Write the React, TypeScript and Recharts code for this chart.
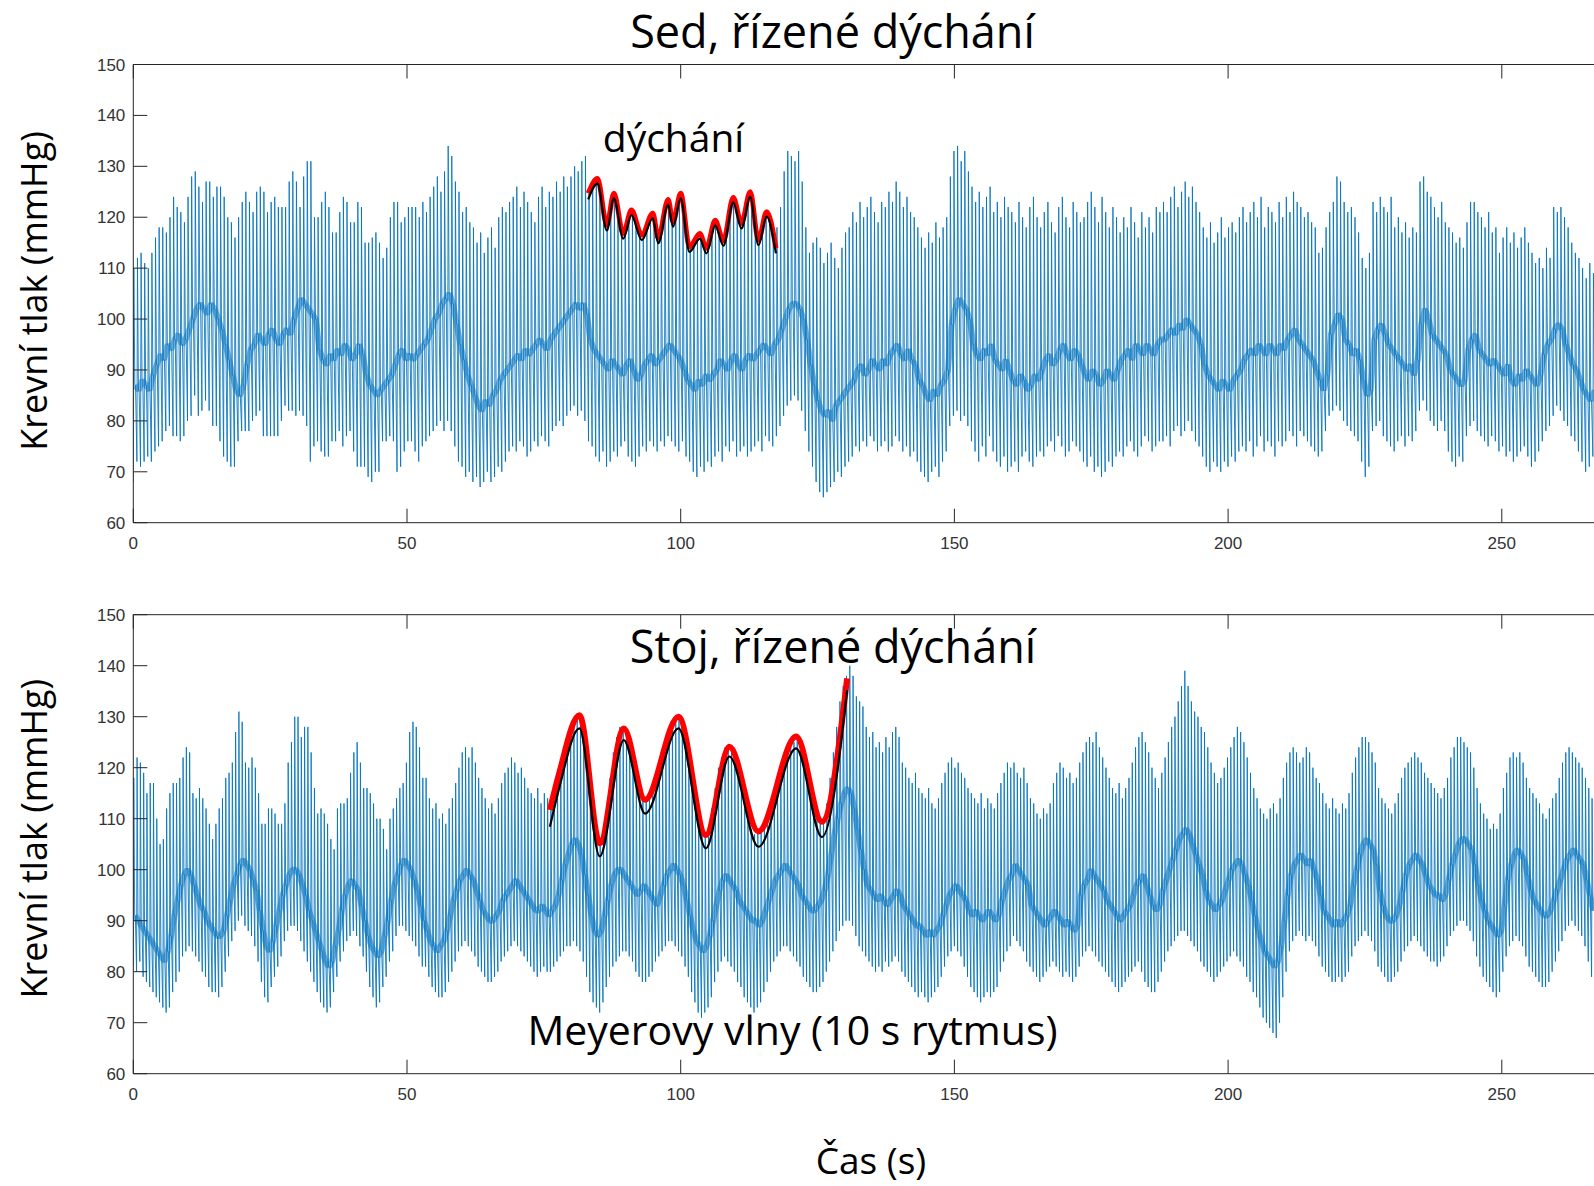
import React from "react";
import { ComposedChart, Line, XAxis, YAxis, ReferenceLine } from "recharts";

// ---------- data ----------
const X_TICKS = [0, 50, 100, 150, 200, 250];
const Y_TICKS = [60, 70, 80, 90, 100, 110, 120, 130, 140, 150];

// beat period (s) of each recording
const BEAT_TOP = 0.66;
const BEAT_BOT = 0.6;

// Sed (sitting): systolic peak, diastolic minimum and dicrotic-notch level per beat (mmHg)
const TOP_SYS = [
  110,112,113,111,110,113,116,118,118,117,120,124,122,121,119,124,128,129,126,123,
  127,127,124,126,126,124,120,119,116,120,123,125,123,121,125,126,125,121,123,124,
  122,122,122,127,129,127,122,128,131,131,120,120,123,125,122,117,117,121,124,123,
  119,119,123,122,115,115,116,117,115,112,114,120,123,123,119,120,122,122,
  122,120,123,121,124,126,128,125,129,134,132,127,125,121,122,119,
  118,115,117,113,116,118,114,120,122,121,123,124,126,122,125,123,
  121,119,124,126,122,125,124,127,125,128,126,128,130,129,131,132,
  125,126,127,126,122,119,121,124,122,118,117,119,121,119,117,116,118,120,120,116,
  118,121,123,120,121,124,123,118,114,115,116,116,114,114,117,119,118,115,117,121,
  123,122,119,120,124,124,119,115,118,121,119,115,
  118,122,129,133,132,131,133,127,118,113,115,116,114,111,113,115,112,110,114,117,
  118,121,119,123,120,122,124,121,119,123,
  122,125,123,127,125,122,124,121,120,
  118,116,114,117,115,119,116,118,120,
  128,133,134,131,133,129,
  126,123,125,122,124,126,121,123,120,124,122,
  121,119,123,120,118,122,124,120,
  118,121,123,119,117,122,124,120,118,123,121,119,
  120,123,125,122,119,124,121,118,122,120,
  117,120,118,122,119,116,121,118,120,117,122,121,
  123,121,124,126,122,125,127,124,126,123,121,
  118,116,119,115,117,120,116,118,119,117,120,
  122,119,121,123,120,124,118,122,121,119,123,120,
  124,121,125,123,
  122,120,121,119,118,113,114,118,121,123,128,127,123,121,122,120,117,112,110,113,
  123,121,124,122,121,124,118,120,117,119,116,118,117,127,128,125,124,122,120,123,119,
  118,117,115,116,114,119,123,123,121,120,118,121,117,118,113,116,118,115,117,114,116,118,115,
  113,111,112,110,114,112,122,121,122,120,118,115,113,112,110,108,111,109,
];
const TOP_DIA = [
  68,72,71,72,73,72,74,75,76,78,79,77,77,76,77,80,81,85,81,82,
  84,82,79,79,76,73,72,71,71,76,78,78,78,80,81,82,77,77,77,77,
  77,80,83,82,82,81,82,81,79,72,75,76,74,73,73,76,76,78,75,77,
  78,74,71,71,71,69,68,70,70,76,76,77,76,70,71,74,76,76,
  74,72,75,76,77,78,79,80,78,80,78,75,72,71,69,70,
  68,69,67,68,70,68,69,71,70,72,74,75,74,76,75,73,
  74,76,75,77,76,75,78,79,80,79,81,82,83,81,82,80,
  76,75,73,72,74,71,72,74,73,75,76,73,72,71,73,75,74,76,75,
  74,76,75,77,76,75,74,76,73,72,70,69,71,70,72,71,
  73,74,72,75,74,76,73,74,75,73,74,75,76,74,77,76,75,
  77,79,81,83,84,85,84,82,78,74,71,68,66,65,66,67,68,70,69,71,
  72,73,75,74,76,75,77,76,74,75,
  76,74,75,77,76,74,75,73,74,
  72,70,69,68,70,71,69,72,74,
  79,81,82,80,81,79,
  76,74,72,75,73,77,74,72,71,73,70,
  71,72,70,73,74,72,71,73,
  74,73,75,76,74,77,75,73,74,76,75,74,
  72,71,73,70,71,69,70,72,71,73,
  74,73,75,76,74,73,75,77,76,74,75,76,
  76,77,75,78,79,77,78,80,78,76,75,
  73,71,70,72,71,70,72,71,73,72,74,
  75,74,76,73,75,77,74,76,75,73,76,75,
  76,78,77,75,
  78,77,76,75,74,73,74,78,81,82,83,82,80,79,78,77,76,72,69,71,
  78,79,80,77,76,75,74,76,77,75,77,76,78,82,84,82,80,79,78,80,78,
  74,72,71,73,72,77,79,80,78,77,76,75,77,76,74,75,73,74,72,73,74,75,73,
  71,72,74,76,78,79,81,83,82,80,79,77,76,74,72,70,71,73,
];
const TOP_MID = [
  87,86,88,87,86,89,91,93,92,95,94,96,97,95,96,98,100,102,103,102,
  101,103,102,100,98,95,92,89,86,85,87,91,94,95,97,96,95,97,98,96,
  95,97,98,97,100,102,104,103,102,101,100,94,92,91,93,92,94,93,95,94,
  92,93,95,93,89,87,86,85,86,87,88,89,91,93,94,92,93,92,
  93,94,95,96,98,100,101,103,104,105,103,99,95,92,89,87,
  85,83,82,84,83,85,86,88,89,90,91,92,93,92,94,93,
  94,95,96,95,94,96,97,98,99,100,101,102,103,102,103,101,
  96,94,93,92,91,90,92,91,90,89,91,92,90,88,89,91,92,93,91,
  92,93,94,95,94,93,92,90,88,87,86,88,87,89,88,
  89,90,92,91,90,92,93,91,90,92,93,92,93,94,95,94,93,95,
  96,98,100,102,103,103,102,100,96,91,87,84,82,81,82,80,83,84,85,86,
  87,88,90,91,89,90,92,91,90,92,
  91,93,94,95,93,92,94,92,91,
  88,87,85,84,86,85,87,88,90,
  99,102,104,103,102,100,
  95,93,92,94,93,95,92,91,90,92,90,
  88,87,89,88,86,87,89,88,
  90,92,93,91,92,94,95,93,92,94,93,91,
  89,88,90,89,87,88,90,89,88,90,
  92,93,94,92,95,94,93,95,94,93,95,96,
  96,97,98,97,99,98,100,99,98,97,95,
  91,89,88,87,86,88,87,86,88,89,90,
  92,93,94,93,95,94,93,95,94,93,95,94,
  96,97,98,96,
  95,94,93,92,90,88,86,89,97,99,101,100,96,95,93,94,92,88,85,86,
  96,98,99,97,95,94,93,92,91,90,91,89,92,99,102,100,97,96,95,94,93,
  90,89,88,87,88,94,96,97,94,93,92,91,92,91,90,89,91,88,87,89,88,90,89,
  88,87,89,93,95,96,98,99,98,95,93,91,90,88,86,85,84,86,
];

// Stoj (standing)
const BOT_SYS = [
  118,122,121,119,115,117,117,110,105,106,112,115,117,117,118,122,124,123,115,114,
  116,114,112,109,106,109,112,114,118,119,121,127,131,129,121,120,122,120,115,109,
  109,112,112,111,109,109,113,121,125,130,130,126,128,128,123,116,111,112,111,109,
  106,104,112,113,113,114,119,123,125,121,116,116,115,113,110,110,108,104,110,112,
  114,116,117,121,127,129,128,124,118,
  118,114,112,113,110,111,109,112,114,117,120,123,124,122,124,121,118,116,114,
  112,113,111,114,117,119,120,122,121,119,120,118,116,115,114,116,113,115,114,
  112,115,118,120,122,125,127,129,130,130,128,123,117,111,107,105,107,112,118,123,
  126,128,128,127,124,120,117,115,114,114,115,117,119,121,123,125,127,129,130,130,
  129,126,122,118,113,109,107,107,108,112,116,120,122,124,124,123,121,118,115,112,
  110,108,107,107,108,108,109,111,113,115,118,120,122,124,125,126,125,123,120,116,
  113,110,109,110,113,118,123,128,133,136,138,
  140,138,134,133,132,
  128,126,127,124,125,123,126,124,127,128,126,
  121,120,118,117,119,116,115,114,116,113,112,114,
  117,119,121,122,120,121,119,118,
  116,115,114,113,115,112,114,113,112,115,
  117,119,121,120,121,119,118,120,117,
  114,113,111,110,112,111,113,
  117,119,121,120,118,119,117,118,
  121,123,125,126,125,127,124,122,120,118,
  116,115,117,114,116,118,121,124,126,
  127,125,123,120,118,116,
  119,122,125,128,130,133,
  136,139,136,133,131,130,128,
  127,124,121,119,117,118,120,122,
  124,126,128,127,125,122,119,
  116,114,112,111,110,112,113,111,114,
  118,121,123,124,123,
  121,122,124,123,120,118,117,
  115,113,112,114,112,111,113,112,115,
  119,122,124,126,126,125,123,121,
  116,114,113,112,111,113,115,118,120,
  121,122,123,122,121,119,118,117,
  116,115,114,116,118,
  122,124,126,126,125,124,123,120,
  116,113,111,110,108,109,108,111,
  116,119,122,123,122,123,121,
  118,116,115,114,113,111,110,112,114,115,
  118,121,123,124,123,122,121,120,
  118,116,114,
];
const BOT_DIA = [
  81,80,82,79,78,77,76,75,74,73,72,73,76,78,80,83,84,85,84,83,
  82,80,79,77,76,76,75,77,80,83,86,88,90,91,89,88,87,85,82,78,
  75,74,77,79,81,83,86,88,89,89,88,86,84,82,80,78,76,74,73,72,
  73,76,79,82,84,86,87,88,87,85,83,80,77,75,73,74,77,79,82,84,
  87,89,89,88,87,86,85,83,81,
  81,79,77,76,75,75,76,78,80,82,84,85,86,85,84,83,81,80,79,
  78,78,79,80,82,83,84,85,86,85,84,83,82,81,80,79,80,81,80,
  80,81,82,83,84,85,85,86,85,84,82,79,76,74,73,72,74,77,79,81,
  82,83,84,84,83,82,80,79,78,78,79,80,82,83,84,85,86,86,85,84,
  83,81,79,76,74,72,71,72,73,75,78,80,82,83,82,81,80,78,77,75,
  74,73,72,73,74,76,78,80,82,83,84,85,85,84,83,82,81,79,78,77,
  76,76,77,78,80,82,84,86,88,89,90,
  90,89,87,85,84,
  83,82,81,80,81,80,82,81,82,83,82,
  80,79,78,77,76,75,76,75,74,75,76,77,
  79,81,83,84,85,84,83,81,
  79,77,76,75,74,75,76,75,76,77,
  80,82,84,85,87,86,85,84,82,
  81,80,79,78,79,80,81,
  82,81,80,79,80,79,78,79,
  81,83,84,85,84,83,82,81,80,79,
  78,77,76,77,78,79,80,81,82,
  80,78,77,76,76,78,
  80,82,84,85,86,87,
  88,88,87,86,85,84,82,
  81,80,79,78,79,80,81,82,
  83,84,83,82,81,79,78,
  76,75,73,71,70,69,68,67,70,
  75,80,84,86,87,
  88,87,86,87,86,85,83,
  81,80,79,78,78,79,78,79,80,
  83,85,86,87,88,87,86,84,
  81,80,79,78,78,79,80,82,84,
  85,86,87,86,85,84,83,82,
  82,81,82,83,85,
  87,88,89,90,90,89,88,86,
  83,81,79,78,77,76,75,76,
  80,83,85,86,87,86,85,
  83,81,80,79,78,77,77,78,80,82,
  84,86,88,89,90,89,88,87,
  85,82,79,
];
const BOT_MID = [
  91,90,89,88,87,86,85,84,83,82,84,87,91,94,97,99,100,99,97,95,
  93,92,90,89,88,87,87,88,91,94,97,99,101,102,101,100,98,96,92,88,
  85,84,86,89,92,95,97,99,100,100,99,97,95,92,90,88,86,84,82,81,
  82,85,88,92,95,97,98,97,96,93,90,87,85,84,83,84,87,90,94,97,
  99,101,102,101,100,98,96,93,90,
  88,86,85,84,85,86,88,91,94,96,98,99,100,99,98,96,94,92,91,
  90,90,91,92,94,95,96,97,98,97,96,95,94,93,92,92,93,92,91,
  92,93,95,98,101,103,105,106,105,103,99,95,91,88,87,88,91,94,97,99,
  100,100,99,98,97,96,95,96,97,96,95,94,93,95,97,99,100,101,100,99,
  97,94,91,88,86,85,84,85,87,90,93,96,98,99,98,97,96,94,93,92,
  91,90,90,89,90,92,94,96,98,99,100,101,100,99,98,97,95,94,93,92,
  92,93,94,96,99,103,107,110,113,115,116,
  115,112,108,104,100,
  97,96,95,94,95,94,93,94,95,96,95,
  93,92,91,90,89,89,88,87,88,87,88,89,
  91,93,95,96,97,96,95,94,
  92,91,92,91,90,91,92,91,90,91,
  94,96,98,99,101,100,99,98,97,
  93,92,91,90,89,90,91,
  92,91,90,89,90,89,88,89,
  95,97,98,100,99,98,97,96,94,93,
  92,91,90,91,92,93,95,97,98,
  99,97,95,93,92,93,
  96,98,100,102,104,106,
  107,108,107,105,103,101,99,
  96,94,93,92,93,94,96,98,
  100,101,102,101,99,97,94,
  91,88,86,84,83,82,81,82,85,
  90,95,99,101,102,
  103,102,101,102,100,98,95,
  92,91,90,89,90,89,90,91,93,
  97,100,103,105,106,105,104,101,
  96,93,91,90,90,91,93,96,99,
  101,102,103,102,101,99,97,96,
  95,95,94,95,98,
  101,103,105,106,106,105,104,101,
  97,94,92,90,89,88,87,88,
  93,98,101,103,104,103,102,
  99,96,94,93,92,91,91,92,94,96,
  98,100,102,103,104,103,102,101,
  98,95,92,
];

// respiratory envelope ("dýchání") drawn over the sitting record
const RESP_T = [83.1,84.8,86.5,87.8,89.5,91.0,92.9,94.9,95.9,97.7,98.6,100.0,101.6,103.5,104.7,106.3,107.8,109.6,111.1,112.7,114.2,115.7,117.4];
const RESP_RED = [124.7,127.6,118.5,124.7,116.8,121.4,116.5,120.8,115.9,123.5,119.1,124.7,114.2,116.8,113.9,119.4,115.4,123.9,118.8,125.0,115.5,121.1,113.9];
const RESP_BLACK = [123.5,126.6,117.4,123.7,115.8,120.4,115.5,119.8,114.9,122.5,118.1,123.7,113.2,115.8,112.9,118.4,114.4,122.9,117.8,124.0,114.5,120.1,112.9];

// Mayer-wave envelope drawn over the standing record
const MAYER_T = [76.1,77.8,81.5,85.2,89.6,93.5,99.6,104.6,108.9,114.2,121.1,125.8,130.4];
const MAYER_RED = [111.7,118.9,130.3,105.2,127.7,113.7,130.0,106.8,124.1,107.5,126.1,109.4,137.5];
const MAYER_BLACK = [108.4,116.0,127.7,102.6,125.4,111.0,127.7,104.2,122.2,104.5,123.8,106.4,135.2];

// ---------- helpers ----------
type Pt = { t: number; v: number };
function buildWave(sys: number[], dia: number[], mid: number[], T: number) {
  const n = Math.min(sys.length, dia.length, mid.length);
  const pts: Pt[] = [];
  for (let i = 0; i < n; i++) {
    const t0 = i * T;
    pts.push({ t: t0, v: dia[i] });
    pts.push({ t: t0 + 0.15 * T, v: sys[i] });
    pts.push({ t: t0 + 0.42 * T, v: mid[i] });
    pts.push({ t: t0 + 0.62 * T, v: mid[i] });
  }
  return pts;
}
// dicrotic-notch trace: where the pulse lingers on every beat (the dark band)
function buildNotch(mid: number[], T: number) {
  return mid.map((m, i) => ({ t: i * T + 0.5 * T, v: m }));
}
function zip(ts: number[], vs: number[]) {
  return ts.map((t, i) => ({ t, v: vs[i] }));
}

const AX = "#262626";
const TICK_FONT = "'Liberation Sans', Arial, Helvetica, sans-serif";
const TEXT_FONT = "'Open Sans', 'Noto Sans', sans-serif";

const YTick = (props: any) => {
  const { x, y, payload } = props;
  return (
    <g>
      <line x1={x + 8} x2={x + 22} y1={y} y2={y} stroke={AX} strokeWidth={1} />
      <text x={x} y={y} dy="0.355em" textAnchor="end" fontSize={17} fontFamily={TICK_FONT} fill="#333">
        {payload.value}
      </text>
    </g>
  );
};

const makeXTick = (plotH: number) => (props: any) => {
  const { x, y, payload } = props;
  const axisY = y - 14;
  return (
    <g>
      <line x1={x} x2={x} y1={axisY} y2={axisY - 14} stroke={AX} strokeWidth={1} />
      <line x1={x} x2={x} y1={axisY - plotH} y2={axisY - plotH + 14} stroke={AX} strokeWidth={1} />
      <text x={x} y={y} dy="0.71em" textAnchor="middle" fontSize={17} fontFamily={TICK_FONT} fill="#333">
        {payload.value}
      </text>
    </g>
  );
};

const CHART_W = 1800;
const CHART_H = 560;

function Panel(props: {
  top: number;
  marginTop: number;
  xAxisH: number;
  wave: Pt[];
  notch: Pt[];
  red: Pt[];
  black: Pt[];
  redW: number;
}) {
  const plotH = CHART_H - props.marginTop - props.xAxisH;
  return (
    <div style={{ position: "absolute", left: 0, top: props.top }}>
      <ComposedChart
        width={CHART_W}
        height={CHART_H}
        margin={{ top: props.marginTop, right: 24.5, bottom: 0, left: 73.3 }}
      >
        <XAxis
          dataKey="t"
          type="number"
          domain={[0, 300]}
          ticks={X_TICKS}
          interval={0}
          allowDataOverflow
          height={props.xAxisH}
          tickSize={0}
          tickMargin={14}
          tickLine={false}
          axisLine={{ stroke: AX, strokeWidth: 1 }}
          tick={makeXTick(plotH)}
        />
        <YAxis
          type="number"
          domain={[60, 150]}
          ticks={Y_TICKS}
          interval={0}
          allowDataOverflow
          width={60}
          tickSize={0}
          tickMargin={8}
          tickLine={false}
          axisLine={{ stroke: AX, strokeWidth: 1 }}
          tick={YTick}
        />
        <ReferenceLine y={150} stroke={AX} strokeWidth={1} />
        <Line
          data={props.notch}
          dataKey="v"
          type="linear"
          stroke="#0072BD"
          strokeWidth={6}
          strokeOpacity={0.5}
          strokeLinejoin="bevel"
          dot={false}
          activeDot={false}
          isAnimationActive={false}
        />
        <Line
          data={props.wave}
          dataKey="v"
          type="linear"
          stroke="#0072BD"
          strokeWidth={1}
          strokeOpacity={0.85}
          dot={false}
          activeDot={false}
          isAnimationActive={false}
        />
        <Line
          data={props.red}
          dataKey="v"
          type="monotone"
          stroke="#FF0000"
          strokeWidth={props.redW}
          dot={false}
          activeDot={false}
          isAnimationActive={false}
        />
        <Line
          data={props.black}
          dataKey="v"
          type="monotone"
          stroke="#000000"
          strokeWidth={2.2}
          dot={false}
          activeDot={false}
          isAnimationActive={false}
        />
      </ComposedChart>
    </div>
  );
}

export default function App() {
  const topWave = buildWave(TOP_SYS, TOP_DIA, TOP_MID, BEAT_TOP);
  const botWave = buildWave(BOT_SYS, BOT_DIA, BOT_MID, BEAT_BOT);
  return (
    <div
      style={{
        position: "absolute",
        left: 0,
        top: 0,
        width: 1594,
        height: 1186,
        overflow: "hidden",
        background: "#fff",
      }}
    >
      <Panel
        top={0}
        marginTop={64.5}
        xAxisH={37.3}
        wave={topWave}
        notch={buildNotch(TOP_MID, BEAT_TOP)}
        red={zip(RESP_T, RESP_RED)}
        black={zip(RESP_T, RESP_BLACK)}
        redW={5}
      />
      <Panel
        top={560}
        marginTop={54.7}
        xAxisH={46.3}
        wave={botWave}
        notch={buildNotch(BOT_MID, BEAT_BOT)}
        red={zip(MAYER_T, MAYER_RED)}
        black={zip(MAYER_T, MAYER_BLACK)}
        redW={6}
      />
      <svg
        width={1594}
        height={1186}
        style={{ position: "absolute", left: 0, top: 0, pointerEvents: "none" }}
      >
        <g fontFamily={TEXT_FONT} fill="#000">
          <text x={832.5} y={48} textAnchor="middle" fontSize={45}>Sed, řízené dýchání</text>
          <text x={673.5} y={151.7} textAnchor="middle" fontSize={39}>dýchání</text>
          <text x={833} y={663} textAnchor="middle" fontSize={45}>Stoj, řízené dýchání</text>
          <text x={792.5} y={1045} textAnchor="middle" fontSize={41}>Meyerovy vlny (10 s rytmus)</text>
          <text x={871} y={1174} textAnchor="middle" fontSize={37}>Čas (s)</text>
          <text x={47} y={291} textAnchor="middle" fontSize={36} transform="rotate(-90 47 291)">
            Krevní tlak (mmHg)
          </text>
          <text x={47} y={838.7} textAnchor="middle" fontSize={36} transform="rotate(-90 47 838.7)">
            Krevní tlak (mmHg)
          </text>
        </g>
      </svg>
    </div>
  );
}
